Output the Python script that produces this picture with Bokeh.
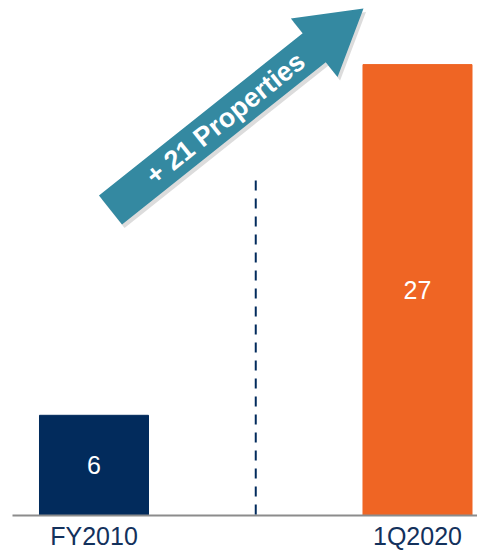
import math
from bokeh.plotting import figure
from bokeh.models import Range1d, ColumnDataSource
from bokeh.core.properties import value
from bokeh.embed import file_html
from bokeh.resources import INLINE

# ---- data ----
categories = ["FY2010", "1Q2020"]
properties = [6, 27]
bar_colors = ["#022b5c", "#ef6524"]
change_label = "+ 21 Properties"

# ---- layout constants (pixels of the 477x552 figure) ----
W, H = 477, 552
BASE_Y = 515.0             # baseline (value 0) in pixels from top
PX_X = 323.5               # pixels per category slot
PX_Y = 16.70               # pixels per property
X_START = 0.5 - 93.5 / PX_X
X_END = X_START + W / PX_X
Y_END = BASE_Y / PX_Y
Y_START = -(H - BASE_Y) / PX_Y

NAVY = "#022b5c"
TEAL = "#3489a1"
LABEL_NAVY = "#13315c"


def to_data(X, Y):
    return X_START + X / PX_X, (BASE_Y - Y) / PX_Y


xs = [i + 0.5 for i in range(len(categories))]

p = figure(width=W, height=H, output_backend="svg", toolbar_location=None,
           x_range=Range1d(X_START, X_END), y_range=Range1d(Y_START, Y_END),
           min_border=0)
p.outline_line_color = None
p.grid.visible = False
p.axis.visible = False
p.background_fill_color = "white"

src = ColumnDataSource(dict(x=xs, top=properties, color=bar_colors,
                            lab=[str(v) for v in properties],
                            ly=[v / 2 for v in properties],
                            cat=categories))
p.vbar(x="x", top="top", bottom=0, width=0.337, color="color", source=src)
p.text(x="x", y="ly", text="lab", source=src, text_color="white",
       text_font=value("Liberation Sans"), text_font_size="25px",
       text_align="center", text_baseline="middle")

# baseline
p.segment(x0=[to_data(12, 0)[0]], y0=[0], x1=[X_END], y1=[0],
          line_color="#8c8c8c", line_width=2)

# category labels under the baseline
p.text(x="x", y=(BASE_Y - 535.5) / PX_Y, text="cat", source=src,
       text_color=LABEL_NAVY, text_font=value("Liberation Sans"),
       text_font_size="25px", text_align="center",
       text_baseline="middle")

# dashed divider between the two periods
p.segment(x0=[1.0], y0=[(BASE_Y - 180) / PX_Y], x1=[1.0],
          y1=[(BASE_Y - 520) / PX_Y],
          line_color=NAVY, line_width=2, line_dash="10 8")

# growth arrow
tail = (110.0, 209.5)
tip = (363.0, 8.0)
shaft_w, head_w, head_len = 37.0, 75.0, 63.0
dx, dy = tip[0] - tail[0], tip[1] - tail[1]
L = math.hypot(dx, dy)
ux, uy = dx / L, dy / L
nx, ny = -uy, ux
bx, by = tip[0] - ux * head_len, tip[1] - uy * head_len
pts = [
    (tail[0] + nx * shaft_w / 2, tail[1] + ny * shaft_w / 2),
    (tail[0] - nx * shaft_w / 2, tail[1] - ny * shaft_w / 2),
    (bx - nx * shaft_w / 2, by - ny * shaft_w / 2),
    (bx - nx * head_w / 2, by - ny * head_w / 2),
    tip,
    (bx + nx * head_w / 2, by + ny * head_w / 2),
    (bx + nx * shaft_w / 2, by + ny * shaft_w / 2),
]
shadow = [to_data(X + 2.5, Y + 3.5) for X, Y in pts]
p.patch([q[0] for q in shadow], [q[1] for q in shadow], color="#9a9a9a",
        alpha=0.35, line_width=0)
arrow = [to_data(X, Y) for X, Y in pts]
p.patch([q[0] for q in arrow], [q[1] for q in arrow], color=TEAL, line_width=0)

t_center = to_data(tail[0] + ux * 147, tail[1] + uy * 147)
angle = math.atan2(-dy, dx)
p.text(x=[t_center[0]], y=[t_center[1]], text=[change_label], angle=angle,
       text_color="white", text_font=value("Liberation Sans"),
       text_font_style="bold", text_font_size="27px", text_align="center",
       text_baseline="middle")

open("out.html", "w").write(file_html(p, INLINE))
